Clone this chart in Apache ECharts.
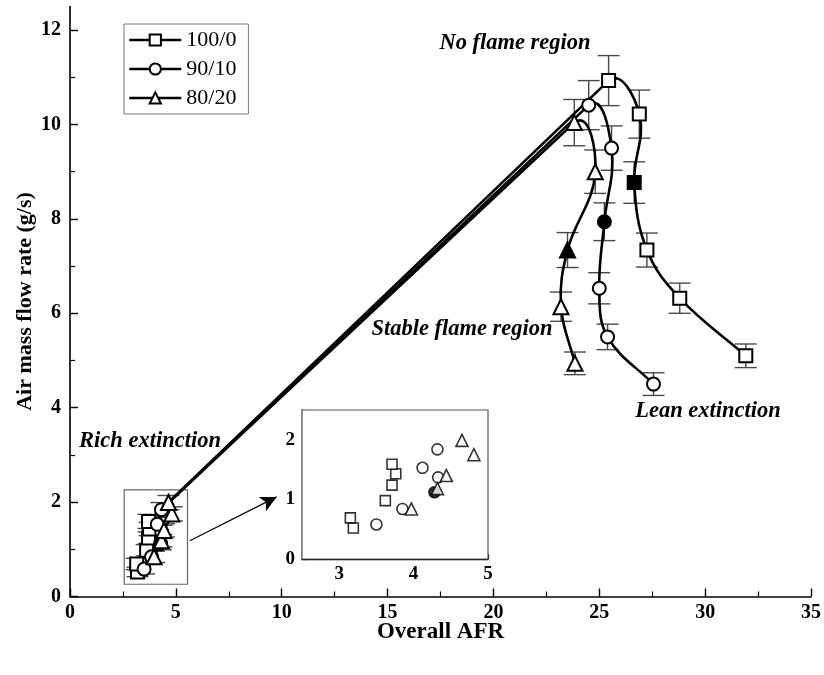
<!DOCTYPE html>
<html>
<head>
<meta charset="utf-8">
<script src="https://cdn.jsdelivr.net/npm/echarts@6/dist/echarts.min.js"></script>
<style>
  html, body { margin: 0; padding: 0; background: #fff; }
  #chart { width: 824px; height: 675px; }
</style>
</head>
<body>
<div id="chart"></div>
<script>
// Blend ratios
const blends = ['100/0', '90/10', '80/20'];

// Overall AFR, air mass flow rate (g/s) and its error, per blend.
// Rich-extinction points come first, then the peak and the lean branch.
const afr100 = [3.19, 3.15, 3.62, 3.71, 3.76, 3.71, 25.44, 26.89, 26.65, 27.25, 28.80, 31.92];
const air100 = [0.52, 0.69, 0.98, 1.24, 1.43, 1.59, 10.93, 10.22, 8.77, 7.34, 6.32, 5.10];
const err100 = [0.10, 0.12, 0.12, 0.13, 0.14, 0.15, 0.53, 0.51, 0.44, 0.36, 0.32, 0.25];

const afr90 = [3.50, 3.85, 4.28, 4.33, 4.12, 4.32, 24.50, 25.58, 25.24, 25.00, 25.39, 27.56];
const air90 = [0.58, 0.84, 1.12, 1.37, 1.53, 1.84, 10.41, 9.50, 7.94, 6.53, 5.50, 4.50];
const err90 = [0.10, 0.12, 0.13, 0.14, 0.14, 0.15, 0.52, 0.47, 0.40, 0.33, 0.27, 0.24];

const afr80 = [3.97, 4.32, 4.44, 4.81, 4.65, 23.82, 24.81, 23.50, 23.19, 23.85];
const air80 = [0.84, 1.18, 1.40, 1.75, 1.99, 10.04, 9.00, 7.34, 6.14, 4.94];
const err80 = [0.12, 0.13, 0.14, 0.15, 0.15, 0.49, 0.46, 0.37, 0.31, 0.24];

// Points drawn with a solid marker
const solid100 = [8];
const solid90 = [2, 8];
const solid80 = [7];

// Number of rich-extinction points (shown again in the inset)
const rich100 = 6;
const rich90 = 6;
const rich80 = 5;

// Tick labels
const yTicks = [0, 2, 4, 6, 8, 10, 12];
const yMinorTicks = [1, 3, 5, 7, 9, 11];

const serif = '"Liberation Serif", "Times New Roman", serif';
const symbols = ['rect', 'circle', 'triangle'];
const sizes = [13, 13, 15];
const insetSizes = [10, 11, 12];

const sets = [
  { afr: afr100, air: air100, err: err100, solid: solid100, rich: rich100 },
  { afr: afr90, air: air90, err: err90, solid: solid90, rich: rich90 },
  { afr: afr80, air: air80, err: err80, solid: solid80, rich: rich80 }
];

function points(s) {
  return s.afr.map((x, i) => {
    const p = { value: [x, s.air[i]] };
    if (s.solid.includes(i)) p.itemStyle = { color: '#000' };
    return p;
  });
}

function errorBarItem(params, api) {
  const x = api.value(0), y = api.value(1), e = api.value(2);
  const hi = api.coord([x, y + e]);
  const lo = api.coord([x, y - e]);
  const w = 11;
  const style = { stroke: '#4a4a4a', lineWidth: 1.4, fill: null };
  return {
    type: 'group',
    children: [
      { type: 'line', shape: { x1: hi[0], y1: hi[1], x2: lo[0], y2: lo[1] }, style },
      { type: 'line', shape: { x1: hi[0] - w, y1: hi[1], x2: hi[0] + w, y2: hi[1] }, style },
      { type: 'line', shape: { x1: lo[0] - w, y1: lo[1], x2: lo[0] + w, y2: lo[1] }, style }
    ]
  };
}

// Connecting curve: straight segments through the rich points up to the peak,
// then a smooth spline along the lean branch (tangents from neighbouring points).
function curveRenderer(s) {
  const n = s.afr.length;
  const k = 0.38;
  return function (params, api) {
    const i = params.dataIndex;
    if (i >= n - 1) return null;
    const P = j => api.coord([s.afr[j], s.air[j]]);
    const style = { stroke: '#000', lineWidth: 2.6, fill: null, lineCap: 'round', lineJoin: 'round' };
    const p0 = P(i), p1 = P(i + 1);
    if (i < s.rich) {
      return { type: 'line', shape: { x1: p0[0], y1: p0[1], x2: p1[0], y2: p1[1] }, style };
    }
    const tangent = j => {
      const a = P(j - 1);
      const b = j < n - 1 ? P(j + 1) : P(j);
      const dx = b[0] - a[0], dy = b[1] - a[1];
      const len = Math.hypot(dx, dy) || 1;
      return [dx / len, dy / len];
    };
    const t0 = tangent(i), t1 = tangent(i + 1);
    const L = Math.hypot(p1[0] - p0[0], p1[1] - p0[1]);
    return {
      type: 'bezierCurve',
      shape: {
        x1: p0[0], y1: p0[1], x2: p1[0], y2: p1[1],
        cpx1: p0[0] + t0[0] * L * k, cpy1: p0[1] + t0[1] * L * k,
        cpx2: p1[0] - t1[0] * L * k, cpy2: p1[1] - t1[1] * L * k
      },
      style
    };
  };
}

const series = [];

// Error bars, under everything else
sets.forEach((s, k) => {
  series.push({
    type: 'custom',
    name: 'err' + k,
    xAxisIndex: 0, yAxisIndex: 0,
    z: 1,
    silent: true,
    renderItem: errorBarItem,
    encode: { x: 0, y: 1 },
    data: s.afr.map((x, i) => [x, s.air[i], s.err[i]])
  });
});

// Curves
sets.forEach((s, k) => {
  series.push({
    type: 'custom',
    name: 'curve' + k,
    xAxisIndex: 0, yAxisIndex: 0,
    z: 2,
    silent: true,
    renderItem: curveRenderer(s),
    encode: { x: 0, y: 1 },
    data: s.afr.map((x, i) => [x, s.air[i]])
  });
});

// Markers
sets.forEach((s, k) => {
  const ser = {
    type: 'line',
    name: blends[k],
    xAxisIndex: 0, yAxisIndex: 0,
    z: 3,
    symbol: symbols[k],
    symbolSize: sizes[k],
    showAllSymbol: true,
    lineStyle: { color: '#000', width: 2.6, opacity: 0 },
    itemStyle: { color: '#fff', borderColor: '#000', borderWidth: 2 },
    data: points(s)
  };
  if (k === 0) {
    ser.markArea = {
      silent: true,
      itemStyle: { color: 'rgba(0,0,0,0)', borderColor: '#666', borderWidth: 1.2 },
      data: [[{ coord: [2.56, 0.26] }, { coord: [5.55, 2.26] }]]
    };
    ser.markLine = {
      silent: true,
      symbol: ['none', 'arrow'],
      symbolSize: [12, 16],
      label: { show: false },
      lineStyle: { color: '#000', width: 1.2, type: 'solid', opacity: 1 },
      data: [[{ coord: [5.66, 1.18] }, { coord: [9.76, 2.11] }]]
    };
  }
  series.push(ser);
});

// Inset: rich-extinction points only
sets.forEach((s, k) => {
  series.push({
    type: 'scatter',
    name: 'inset' + k,
    xAxisIndex: 1, yAxisIndex: 2,
    z: 3,
    symbol: symbols[k],
    symbolSize: insetSizes[k],
    itemStyle: { color: '#fff', borderColor: '#000', borderWidth: 1.6 },
    data: points(s).slice(0, s.rich)
  });
});

const axisLineStyle = { color: '#000', width: 1.6 };
const halfHidden = v => (Math.abs(v - Math.round(v)) < 1e-6 ? String(Math.round(v)) : '');

const option = {
  animation: false,
  backgroundColor: '#fff',
  grid: [
    { left: 70, top: 6.5, width: 742, height: 590 },
    { left: 302, top: 410, width: 186, height: 149, show: true, borderColor: '#555', borderWidth: 1.2, backgroundColor: '#fff', z: 2 }
  ],
  xAxis: [
    {
      gridIndex: 0, type: 'value', min: 0, max: 35, interval: 5,
      name: 'Overall AFR', nameLocation: 'middle', nameGap: 24, nameMoveOverlap: false,
      nameTextStyle: { fontFamily: serif, fontWeight: 'bold', fontSize: 23, color: '#000' },
      axisLine: { lineStyle: axisLineStyle },
      axisTick: { inside: true, length: 8, lineStyle: { color: '#000', width: 1.4 } },
      minorTick: { show: true, splitNumber: 2, length: 5, lineStyle: { color: '#000', width: 1.2 } },
      axisLabel: { fontFamily: serif, fontWeight: 'bold', fontSize: 20, color: '#000', margin: 6 },
      splitLine: { show: false }
    },
    {
      gridIndex: 1, type: 'value', min: 2.5, max: 5, interval: 0.5,
      axisLine: { lineStyle: { color: '#000', width: 1.4 } },
      axisTick: { inside: true, length: 5, lineStyle: { color: '#000', width: 1.2 } },
      axisLabel: { fontFamily: serif, fontWeight: 'bold', fontSize: 19, color: '#000', margin: 6, formatter: halfHidden },
      splitLine: { show: false }
    }
  ],
  yAxis: [
    {
      gridIndex: 0, type: 'value', min: 0, max: 12.5, position: 'left',
      name: 'Air mass flow rate (g/s)', nameLocation: 'middle', nameGap: 34, nameMoveOverlap: false,
      nameTextStyle: { fontFamily: serif, fontWeight: 'bold', fontSize: 22, color: '#000' },
      axisLine: { lineStyle: axisLineStyle },
      axisTick: { inside: true, length: 8, customValues: yTicks, lineStyle: { color: '#000', width: 1.4 } },
      axisLabel: { fontFamily: serif, fontWeight: 'bold', fontSize: 20, color: '#000', margin: 9, customValues: yTicks },
      splitLine: { show: false }
    },
    {
      gridIndex: 0, type: 'value', min: 0, max: 12.5, position: 'left', offset: 0,
      axisLine: { show: false },
      axisTick: { inside: true, length: 5, customValues: yMinorTicks, lineStyle: { color: '#000', width: 1.2 } },
      axisLabel: { show: false },
      splitLine: { show: false }
    },
    {
      gridIndex: 1, type: 'value', min: 0, max: 2.5, interval: 0.5,
      axisLine: { lineStyle: { color: '#000', width: 1.4 } },
      axisTick: { inside: true, length: 5, lineStyle: { color: '#000', width: 1.2 } },
      axisLabel: { fontFamily: serif, fontWeight: 'bold', fontSize: 19, color: '#000', margin: 7, formatter: halfHidden },
      splitLine: { show: false }
    }
  ],
  legend: {
    data: blends,
    orient: 'vertical',
    left: 124, top: 24,
    itemWidth: 52, itemHeight: 14, itemGap: 7,
    padding: [5, 12, 5, 4],
    borderColor: '#777', borderWidth: 1,
    backgroundColor: '#fff',
    selectedMode: false,
    lineStyle: { color: '#000', width: 2.6, opacity: 1 },
    textStyle: { fontFamily: serif, fontSize: 22, color: '#000' }
  },
  graphic: [
    { type: 'text', z: 10, style: { x: 515, y: 43, text: 'No flame region', font: 'italic bold 22.5px ' + serif, fill: '#000', align: 'center', verticalAlign: 'middle' } },
    { type: 'text', z: 10, style: { x: 462, y: 329, text: 'Stable flame region', font: 'italic bold 22.5px ' + serif, fill: '#000', align: 'center', verticalAlign: 'middle' } },
    { type: 'text', z: 10, style: { x: 708, y: 411, text: 'Lean extinction', font: 'italic bold 22.5px ' + serif, fill: '#000', align: 'center', verticalAlign: 'middle' } },
    { type: 'text', z: 10, style: { x: 150, y: 441, text: 'Rich extinction', font: 'italic bold 22.5px ' + serif, fill: '#000', align: 'center', verticalAlign: 'middle' } }
  ],
  series: series
};

const chart = echarts.init(document.getElementById('chart'), null, { renderer: 'canvas' });
chart.setOption(option);
</script>
</body>
</html>
